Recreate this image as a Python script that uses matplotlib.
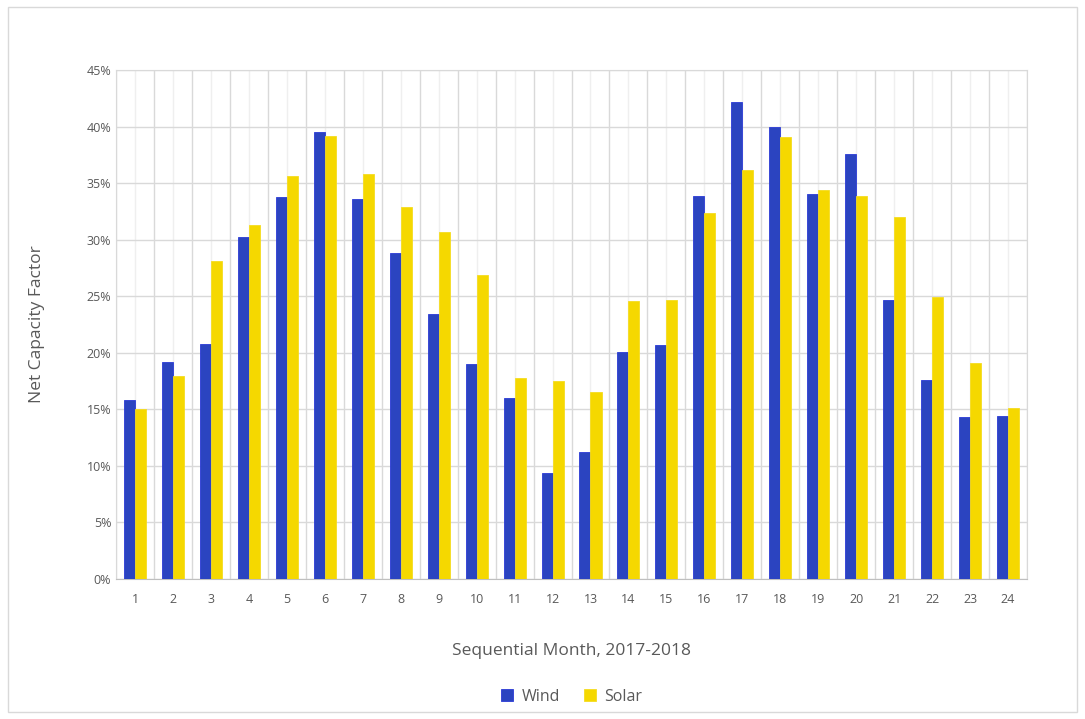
import numpy as np
import matplotlib.pyplot as plt
from matplotlib.patches import Rectangle
from matplotlib.ticker import FuncFormatter, MultipleLocator

# Monthly net capacity factor (%)
months = list(range(1, 25))
wind = [15.8, 19.2, 20.8, 30.2, 33.8, 39.5, 33.6, 28.8, 23.4, 19.0, 16.0, 9.4,
        11.2, 20.1, 20.7, 33.9, 42.2, 40.0, 34.0, 37.6, 24.7, 17.6, 14.3, 14.4]
solar = [15.0, 17.9, 28.1, 31.3, 35.6, 39.2, 35.8, 32.9, 30.7, 26.9, 17.8, 17.5,
         16.5, 24.6, 24.7, 32.4, 36.2, 39.1, 34.4, 33.9, 32.0, 24.9, 19.1, 15.1]

plt.rcParams['font.family'] = ['Open Sans', 'DejaVu Sans']
txt = '#595959'

fig = plt.figure(figsize=(10.85, 7.19), dpi=100)
fig.patches.append(Rectangle((0.007, 0.01), 0.986, 0.98, transform=fig.transFigure,
                             fill=False, edgecolor='#d9d9d9', linewidth=1))
ax = fig.add_axes([0.107, 0.195, 0.8395, 0.7075])

x = np.arange(len(months))
w = 0.29
ax.bar(x - w / 2, wind, w, color='#2b44c0', edgecolor='#2a3ad6', linewidth=0.6,
       label='Wind', zorder=3)
ax.bar(x + w / 2, solar, w, color='#f5d800', edgecolor='#f5dc20', linewidth=0.6,
       label='Solar', zorder=3)

ax.set_xlim(-0.5, len(months) - 0.5)
ax.set_ylim(0, 45)
ax.yaxis.set_major_locator(MultipleLocator(5))
ax.yaxis.set_major_formatter(FuncFormatter(lambda v, p: f'{v:.0f}%'))
ax.set_xticks(x)
ax.set_xticklabels([str(m) for m in months])
ax.set_xticks(np.arange(-0.5, len(months)), minor=True)

ax.grid(axis='y', which='major', color='#d9d9d9', linewidth=1, zorder=0)
ax.grid(axis='x', which='minor', color='#d9d9d9', linewidth=1, zorder=0)
ax.grid(axis='x', which='major', color='#efefef', linewidth=1, zorder=0)
ax.tick_params(which='both', length=0, colors=txt, labelsize=9)
ax.tick_params(axis='x', pad=10)
for s in ax.spines.values():
    s.set_color('#d9d9d9')
ax.spines['bottom'].set_color('#bfbfbf')

ax.set_ylabel('Net Capacity Factor', color=txt, fontsize=12.5, labelpad=30)
ax.set_xlabel('Sequential Month, 2017-2018', color=txt, fontsize=12.5, labelpad=27)

ax.legend(loc='upper center', bbox_to_anchor=(0.5, -0.188), ncol=2, frameon=False,
          fontsize=11.5, labelcolor=txt, handlelength=0.8, handleheight=0.8,
          columnspacing=1.5, handletextpad=0.5)

plt.savefig('out.png', dpi=100)
